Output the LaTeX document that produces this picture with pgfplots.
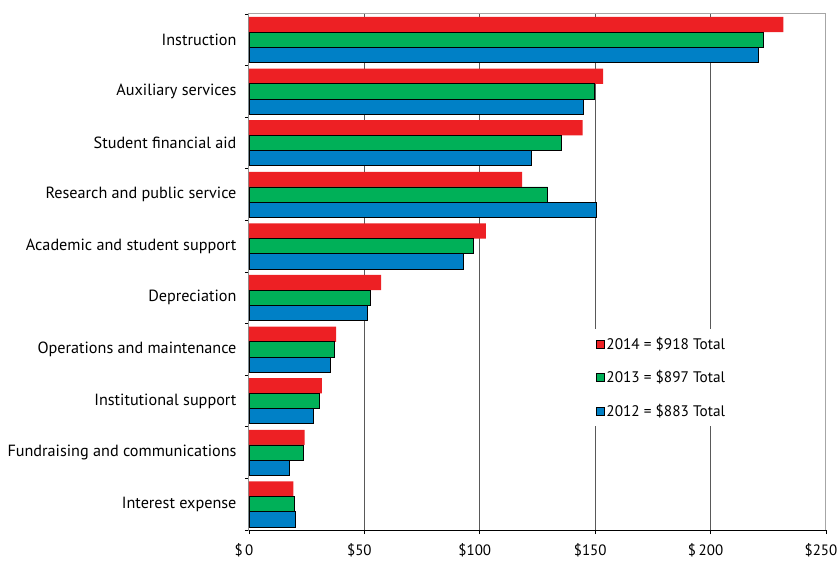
\documentclass[border=0pt]{standalone}
\usepackage{pgfplots}
\pgfplotsset{compat=1.18}
\usepackage{fontspec}
\setmainfont{PT Sans}

\definecolor{cRed}{RGB}{237,32,36}
\definecolor{cGreen}{RGB}{0,176,88}
\definecolor{cBlue}{RGB}{0,128,198}

\begin{document}
\begin{tikzpicture}
\begin{axis}[
    scale only axis,
    width=577pt, height=516pt,
    xbar, bar width=0.295,
    xmin=0, xmax=250,
    ymin=-0.5, ymax=9.5,
    xtick={0,50,...,250},
    xticklabels={\$\,0,\$50,\$100,\$150,\$\,200,\$250},
    ytick={0,...,9},
    yticklabels={Interest expense,Fundraising and communications,Institutional support,Operations and maintenance\ ,Depreciation,Academic and student support,Research and public service,Student financial aid,Auxiliary services,Instruction},
    minor ytick={-0.5,0.5,...,9.5},
    tick align=outside,
    tick pos=left,
    major y tick style={draw=none},
    minor y tick style={black, line width=0.9pt},
    minor tick length=4pt,
    x tick style={black, line width=0.9pt},
    major tick length=4pt,
    xmajorgrids,
    major x grid style={black!65, line width=1pt},
    axis line style={black!35, line width=1pt},
    yticklabel style={font=\fontsize{16.2}{18}\selectfont, xshift=-5pt},
    xticklabel style={font=\fontsize{15}{17}\selectfont, yshift=-6pt, xshift=-5pt},
    legend image code/.code={\draw[#1] (0pt,-4pt) rectangle (8pt,4pt);},
    legend style={at={(0.59,0.39)}, anchor=north west, draw=none, fill=white,
      font=\fontsize{15.3}{17}\selectfont, row sep=16pt, inner sep=6pt},
    legend cell align=left,
]

% 2014
\addplot[fill=cRed, draw=none, bar shift=0.295] coordinates {
  (19.2,0) (24.1,1) (31.6,2) (37.8,3) (57.3,4)
  (102.6,5) (118.3,6) (144.5,7) (153.4,8) (231.5,9)
};
% 2013
\addplot[fill=cGreen, draw=black, line width=0.8pt, bar shift=0] coordinates {
  (19.8,0) (23.7,1) (30.7,2) (36.8,3) (52.7,4)
  (97.1,5) (129.4,6) (135.5,7) (149.5,8) (223.0,9)
};
% 2012
\addplot[fill=cBlue, draw=black, line width=0.8pt, bar shift=-0.295] coordinates {
  (20.2,0) (17.6,1) (28.1,2) (35.2,3) (51.2,4)
  (93.1,5) (150.5,6) (122.2,7) (145.0,8) (220.5,9)
};

\legend{2014 = \$918 Total, 2013 = \$897 Total, 2012 = \$883 Total}

\draw[black, line width=1pt] (rel axis cs:0,1) -- (rel axis cs:0,0) -- (rel axis cs:1,0);
\coordinate (tl) at (rel axis cs:0,1);
\coordinate (br) at (rel axis cs:1,0);
\end{axis}
% page the size of the reference
\pgfresetboundingbox
\useasboundingbox ([shift={(-249pt,14pt)}]tl) rectangle ([shift={(13pt,-34pt)}]br);
\end{tikzpicture}
\end{document}
